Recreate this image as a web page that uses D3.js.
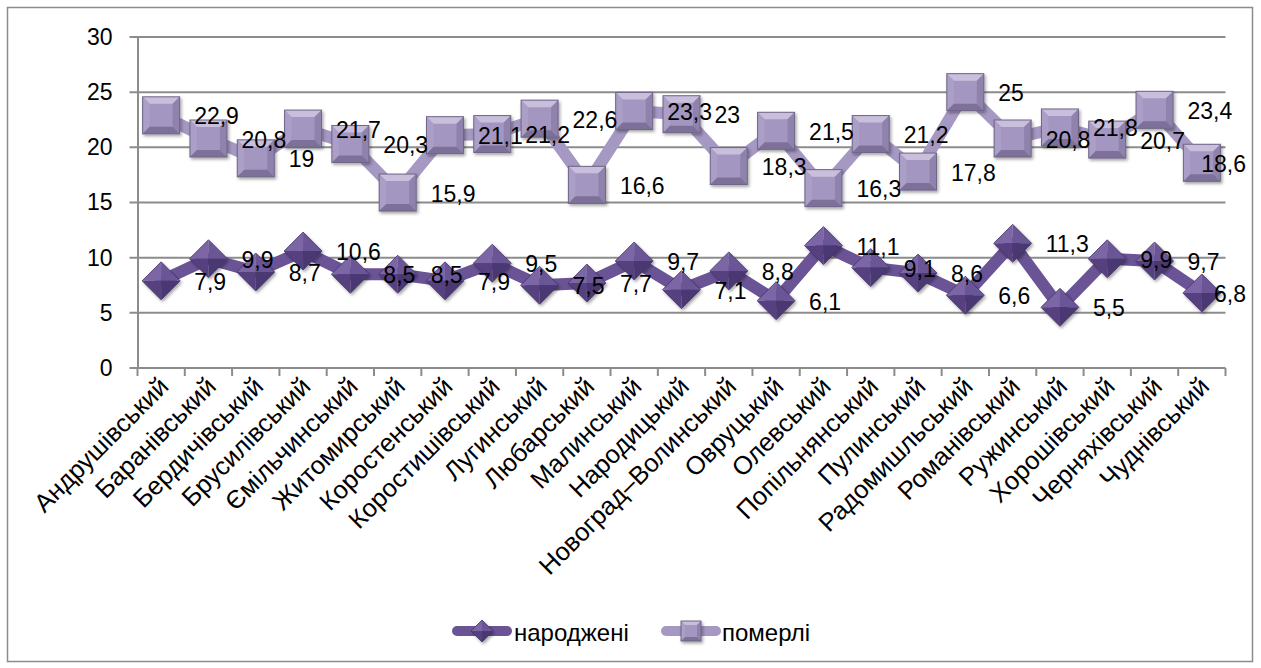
<!DOCTYPE html>
<html>
<head>
<meta charset="utf-8">
<script src="https://cdn.jsdelivr.net/npm/d3@7"></script>
<style>
  body { margin: 0; background: #fff; }
  text { font-family: "Liberation Sans", Arial, sans-serif; fill: #000; }
</style>
</head>
<body>
<div id="lineChart"></div>
<script>
const districts = [
  "Андрушівський", "Баранівський", "Бердичівський", "Брусилівський", "Ємільчинський",
  "Житомирський", "Коростенський", "Коростишівський", "Лугинський", "Любарський",
  "Малинський", "Народицький", "Новоград–Волинський", "Овруцький", "Олевський",
  "Попільнянський", "Пулинський", "Радомишльський", "Романівський", "Ружинський",
  "Хорошівський", "Черняхівський", "Чуднівський"
];
const born = [7.9, 9.9, 8.7, 10.6, 8.5, 8.5, 7.9, 9.5, 7.5, 7.7, 9.7, 7.1, 8.8, 6.1, 11.1, 9.1, 8.6, 6.6, 11.3, 5.5, 9.9, 9.7, 6.8];
const died = [22.9, 20.8, 19, 21.7, 20.3, 15.9, 21.1, 21.2, 22.6, 16.6, 23.3, 23, 18.3, 21.5, 16.3, 21.2, 17.8, 25, 20.8, 21.8, 20.7, 23.4, 18.6];
const yTicks = [0, 5, 10, 15, 20, 25, 30];
const seriesNames = ["народжені", "померлі"];

var chart = {
  width: 1261,
  height: 668,
  top: 37,
  right: 1225.5,
  bottom: 368,
  left: 137.5,
};

const svg = d3
  .select("#lineChart")
  .append("svg")
  .attr("width", chart.width)
  .attr("height", chart.height);

/* marker shadow */
const defs = svg.append("defs");
defs
  .append("filter")
  .attr("id", "shadow")
  .attr("x", "-30%").attr("y", "-30%").attr("width", "160%").attr("height", "160%")
  .append("feDropShadow")
  .attr("dx", 1.5).attr("dy", 2).attr("stdDeviation", 1.5)
  .attr("flood-color", "#000").attr("flood-opacity", 0.35);

svg
  .append("rect")
  .attr("x", 7.5)
  .attr("y", 7.5)
  .attr("width", 1245)
  .attr("height", 654)
  .attr("fill", "#fff")
  .attr("stroke", "#8c8c8c")
  .attr("stroke-width", 1.5);

var x = d3
  .scaleBand()
  .domain(districts)
  .range([chart.left, chart.right]);

var y = d3
  .scaleLinear()
  .domain([0, 30])
  .range([chart.bottom, chart.top]);

/* gridlines */
svg
  .append("g")
  .selectAll("line")
  .data(yTicks)
  .join("line")
  .attr("x1", chart.left - 8)
  .attr("x2", chart.right)
  .attr("y1", (d) => y(d))
  .attr("y2", (d) => y(d))
  .attr("stroke", "#8c8c8c")
  .attr("stroke-width", 2);

var yAxis = (g) =>
  g
    .attr("transform", `translate(${chart.left}, 0)`)
    .call(d3.axisLeft(y).tickValues(yTicks).tickSize(0).tickPadding(25).tickFormat((d) => d))
    .call((g) => g.select(".domain").attr("stroke", "#8c8c8c").attr("stroke-width", 2))
    .call((g) => g.selectAll("text").attr("font-size", 23).attr("font-family", null));

svg.append("g").call(yAxis);

/* x axis ticks at the band edges */
var edges = districts.map((d) => x(d)).concat([chart.right]);
svg
  .append("g")
  .selectAll("line")
  .data(edges)
  .join("line")
  .attr("x1", (d) => d)
  .attr("x2", (d) => d)
  .attr("y1", chart.bottom)
  .attr("y2", chart.bottom + 8)
  .attr("stroke", "#8c8c8c")
  .attr("stroke-width", 2);

svg
  .append("g")
  .selectAll("text")
  .data(districts)
  .join("text")
  .attr("transform", (d) => `translate(${x(d) + x.bandwidth() / 2 + 9}, 388) rotate(-45)`)
  .attr("text-anchor", "end")
  .attr("font-size", 25.5)
  .text((d) => d);

var cx = (i) => x(districts[i]) + x.bandwidth() / 2;

function plotLine(values, color) {
  var line = d3
    .line()
    .x((d, i) => cx(i))
    .y((d) => y(d));

  svg
    .append("path")
    .datum(values)
    .attr("fill", "none")
    .attr("stroke", color)
    .attr("stroke-width", 12)
    .attr("stroke-linejoin", "round")
    .attr("stroke-linecap", "round")
    .attr("d", line);
}

/* bevelled square: flat top, four sloped sides */
function drawSquare(g, px, py, s, b) {
  var h = s / 2, k = h - b;
  var faces = [
    [[-h, -h], [h, -h], [k, -k], [-k, -k], "#c9bfdc"],
    [[-h, -h], [-k, -k], [-k, k], [-h, h], "#ab9fc8"],
    [[h, -h], [h, h], [k, k], [k, -k], "#8f82ac"],
    [[-h, h], [-k, k], [k, k], [h, h], "#7e7199"],
  ];
  var m = g.append("g").attr("transform", `translate(${px}, ${py})`).attr("filter", "url(#shadow)");
  m.append("rect").attr("x", -h).attr("y", -h).attr("width", s).attr("height", s).attr("fill", "#a396c0");
  faces.forEach((f) => {
    m.append("path").attr("d", "M" + f.slice(0, 4).join("L") + "Z").attr("fill", f[4]);
  });
  m.append("rect").attr("x", -h).attr("y", -h).attr("width", s).attr("height", s)
    .attr("fill", "none").attr("stroke", "#6f6587").attr("stroke-width", 1);
}

/* pyramid diamond */
function drawDiamond(g, px, py, r) {
  var faces = [
    [[0, -r], [-r, 0], [0, 0], "#7c66a6"],
    [[0, -r], [r, 0], [0, 0], "#6b5697"],
    [[-r, 0], [0, r], [0, 0], "#564180"],
    [[r, 0], [0, r], [0, 0], "#4a3771"],
  ];
  var m = g.append("g").attr("transform", `translate(${px}, ${py})`).attr("filter", "url(#shadow)");
  faces.forEach((f) => {
    m.append("path").attr("d", "M" + f.slice(0, 3).join("L") + "Z").attr("fill", f[3]);
  });
  m.append("path").attr("d", `M0,${-r}L${r},0L0,${r}L${-r},0Z`)
    .attr("fill", "none").attr("stroke", "#45336a").attr("stroke-width", 0.8);
}

plotLine(born, "#6a5496");
var bornMarks = svg.append("g");
born.forEach((v, i) => drawDiamond(bornMarks, cx(i), y(v), 19));

plotLine(died, "#a598c3");
var diedMarks = svg.append("g");
died.forEach((v, i) => drawSquare(diedMarks, cx(i), y(v), 37, 7));

/* data labels, right of marker, kept inside the chart frame */
function plotLabels(values) {
  svg
    .append("g")
    .selectAll("text")
    .data(values)
    .join("text")
    .attr("y", (d) => y(d) + 1)
    .attr("dominant-baseline", "central")
    .attr("font-size", 23)
    .text((d) => String(d).replace(".", ","))
    .attr("x", function (d, i) {
      var w = this.getComputedTextLength();
      return Math.min(cx(i) + 33, 1246 - w);
    });
}
plotLabels(born);
plotLabels(died);

/* legend */
const legend = svg.append("g");
legend.append("line").attr("x1", 457).attr("x2", 507).attr("y1", 631).attr("y2", 631)
  .attr("stroke", "#6a5496").attr("stroke-width", 10).attr("stroke-linecap", "round");
drawDiamond(legend, 482, 631, 11);
legend.append("text").attr("x", 514).attr("y", 632).attr("dominant-baseline", "central")
  .attr("font-size", 24).text(seriesNames[0]);

legend.append("line").attr("x1", 666).attr("x2", 716).attr("y1", 631).attr("y2", 631)
  .attr("stroke", "#a598c3").attr("stroke-width", 10).attr("stroke-linecap", "round");
drawSquare(legend, 691, 631, 20, 4);
legend.append("text").attr("x", 722).attr("y", 632).attr("dominant-baseline", "central")
  .attr("font-size", 24).text(seriesNames[1]);
</script>
</body>
</html>
